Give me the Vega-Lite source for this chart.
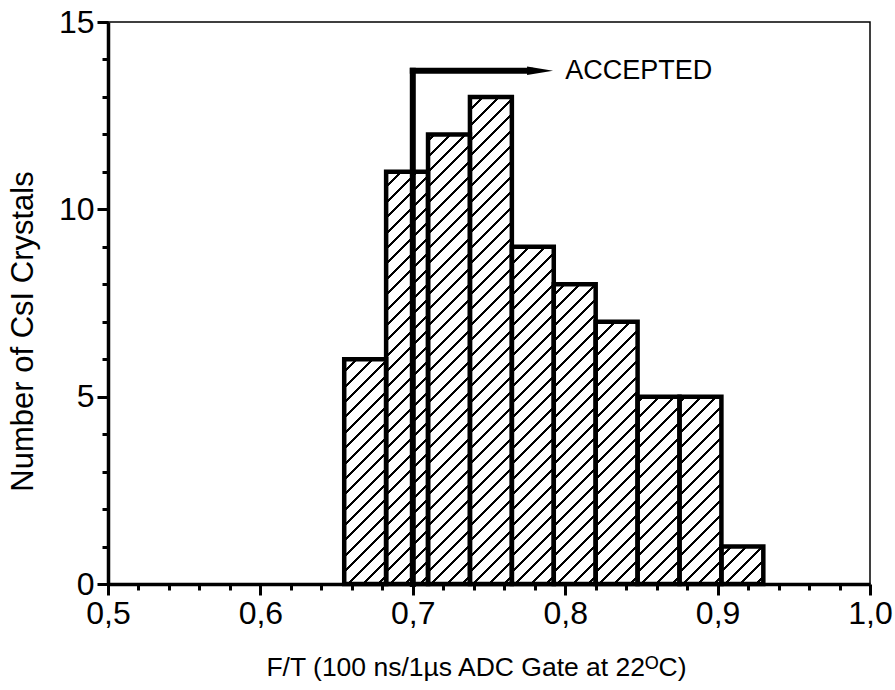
{
"$schema": "https://vega.github.io/schema/vega-lite/v6.json",
"width": 762, "height": 562,
"autosize": {"type": "none"},
"padding": {"left": 108, "top": 22, "right": 25, "bottom": 106},
"background": "white",
"config": {
  "font": "Liberation Sans, Arial, sans-serif",
  "view": {"stroke": "black", "strokeWidth": 1.5},
  "axis": {"domainColor": "black", "domainWidth": 3.5, "tickColor": "black", "tickWidth": 3, "labelColor": "black", "titleColor": "black", "labelFontSize": 32, "titleFontSize": 26.5, "titleFontWeight": "normal", "labelFont": "Liberation Sans", "titleFont": "Liberation Sans", "grid": false, "labelOverlap": false}
},
"resolve": {"axis": {"x": "independent", "y": "independent"}},
"data": {"values": [
  {"bin_start": 0.655, "bin_end": 0.6825, "count": 6},
  {"bin_start": 0.6825, "bin_end": 0.71, "count": 11},
  {"bin_start": 0.71, "bin_end": 0.7375, "count": 12},
  {"bin_start": 0.7375, "bin_end": 0.765, "count": 13},
  {"bin_start": 0.765, "bin_end": 0.7925, "count": 9},
  {"bin_start": 0.7925, "bin_end": 0.82, "count": 8},
  {"bin_start": 0.82, "bin_end": 0.8475, "count": 7},
  {"bin_start": 0.8475, "bin_end": 0.875, "count": 5},
  {"bin_start": 0.875, "bin_end": 0.9025, "count": 5},
  {"bin_start": 0.9025, "bin_end": 0.93, "count": 1}
]},
"layer": [
  {
    "mark": {"type": "rect", "fill": {"gradient": "linear", "x1": 0, "y1": 0, "x2": 0.08025, "y2": 1.069, "stops": [
      {"offset": 0, "color": "#fff"},
      {"offset": 0.0103, "color": "#fff"}, {"offset": 0.0103, "color": "#000"}, {"offset": 0.0153, "color": "#000"}, {"offset": 0.0153, "color": "#fff"},
      {"offset": 0.0360, "color": "#fff"}, {"offset": 0.0360, "color": "#000"}, {"offset": 0.0410, "color": "#000"}, {"offset": 0.0410, "color": "#fff"},
      {"offset": 0.0616, "color": "#fff"}, {"offset": 0.0616, "color": "#000"}, {"offset": 0.0666, "color": "#000"}, {"offset": 0.0666, "color": "#fff"},
      {"offset": 0.0872, "color": "#fff"}, {"offset": 0.0872, "color": "#000"}, {"offset": 0.0922, "color": "#000"}, {"offset": 0.0922, "color": "#fff"},
      {"offset": 0.1129, "color": "#fff"}, {"offset": 0.1129, "color": "#000"}, {"offset": 0.1179, "color": "#000"}, {"offset": 0.1179, "color": "#fff"},
      {"offset": 0.1385, "color": "#fff"}, {"offset": 0.1385, "color": "#000"}, {"offset": 0.1435, "color": "#000"}, {"offset": 0.1435, "color": "#fff"},
      {"offset": 0.1642, "color": "#fff"}, {"offset": 0.1642, "color": "#000"}, {"offset": 0.1692, "color": "#000"}, {"offset": 0.1692, "color": "#fff"},
      {"offset": 0.1898, "color": "#fff"}, {"offset": 0.1898, "color": "#000"}, {"offset": 0.1948, "color": "#000"}, {"offset": 0.1948, "color": "#fff"},
      {"offset": 0.2154, "color": "#fff"}, {"offset": 0.2154, "color": "#000"}, {"offset": 0.2204, "color": "#000"}, {"offset": 0.2204, "color": "#fff"},
      {"offset": 0.2411, "color": "#fff"}, {"offset": 0.2411, "color": "#000"}, {"offset": 0.2461, "color": "#000"}, {"offset": 0.2461, "color": "#fff"},
      {"offset": 0.2667, "color": "#fff"}, {"offset": 0.2667, "color": "#000"}, {"offset": 0.2717, "color": "#000"}, {"offset": 0.2717, "color": "#fff"},
      {"offset": 0.2924, "color": "#fff"}, {"offset": 0.2924, "color": "#000"}, {"offset": 0.2974, "color": "#000"}, {"offset": 0.2974, "color": "#fff"},
      {"offset": 0.3180, "color": "#fff"}, {"offset": 0.3180, "color": "#000"}, {"offset": 0.3230, "color": "#000"}, {"offset": 0.3230, "color": "#fff"},
      {"offset": 0.3437, "color": "#fff"}, {"offset": 0.3437, "color": "#000"}, {"offset": 0.3487, "color": "#000"}, {"offset": 0.3487, "color": "#fff"},
      {"offset": 0.3693, "color": "#fff"}, {"offset": 0.3693, "color": "#000"}, {"offset": 0.3743, "color": "#000"}, {"offset": 0.3743, "color": "#fff"},
      {"offset": 0.3949, "color": "#fff"}, {"offset": 0.3949, "color": "#000"}, {"offset": 0.3999, "color": "#000"}, {"offset": 0.3999, "color": "#fff"},
      {"offset": 0.4206, "color": "#fff"}, {"offset": 0.4206, "color": "#000"}, {"offset": 0.4256, "color": "#000"}, {"offset": 0.4256, "color": "#fff"},
      {"offset": 0.4462, "color": "#fff"}, {"offset": 0.4462, "color": "#000"}, {"offset": 0.4512, "color": "#000"}, {"offset": 0.4512, "color": "#fff"},
      {"offset": 0.4719, "color": "#fff"}, {"offset": 0.4719, "color": "#000"}, {"offset": 0.4769, "color": "#000"}, {"offset": 0.4769, "color": "#fff"},
      {"offset": 0.4975, "color": "#fff"}, {"offset": 0.4975, "color": "#000"}, {"offset": 0.5025, "color": "#000"}, {"offset": 0.5025, "color": "#fff"},
      {"offset": 0.5231, "color": "#fff"}, {"offset": 0.5231, "color": "#000"}, {"offset": 0.5281, "color": "#000"}, {"offset": 0.5281, "color": "#fff"},
      {"offset": 0.5488, "color": "#fff"}, {"offset": 0.5488, "color": "#000"}, {"offset": 0.5538, "color": "#000"}, {"offset": 0.5538, "color": "#fff"},
      {"offset": 0.5744, "color": "#fff"}, {"offset": 0.5744, "color": "#000"}, {"offset": 0.5794, "color": "#000"}, {"offset": 0.5794, "color": "#fff"},
      {"offset": 0.6001, "color": "#fff"}, {"offset": 0.6001, "color": "#000"}, {"offset": 0.6051, "color": "#000"}, {"offset": 0.6051, "color": "#fff"},
      {"offset": 0.6257, "color": "#fff"}, {"offset": 0.6257, "color": "#000"}, {"offset": 0.6307, "color": "#000"}, {"offset": 0.6307, "color": "#fff"},
      {"offset": 0.6513, "color": "#fff"}, {"offset": 0.6513, "color": "#000"}, {"offset": 0.6563, "color": "#000"}, {"offset": 0.6563, "color": "#fff"},
      {"offset": 0.6770, "color": "#fff"}, {"offset": 0.6770, "color": "#000"}, {"offset": 0.6820, "color": "#000"}, {"offset": 0.6820, "color": "#fff"},
      {"offset": 0.7026, "color": "#fff"}, {"offset": 0.7026, "color": "#000"}, {"offset": 0.7076, "color": "#000"}, {"offset": 0.7076, "color": "#fff"},
      {"offset": 0.7283, "color": "#fff"}, {"offset": 0.7283, "color": "#000"}, {"offset": 0.7333, "color": "#000"}, {"offset": 0.7333, "color": "#fff"},
      {"offset": 0.7539, "color": "#fff"}, {"offset": 0.7539, "color": "#000"}, {"offset": 0.7589, "color": "#000"}, {"offset": 0.7589, "color": "#fff"},
      {"offset": 0.7796, "color": "#fff"}, {"offset": 0.7796, "color": "#000"}, {"offset": 0.7846, "color": "#000"}, {"offset": 0.7846, "color": "#fff"},
      {"offset": 0.8052, "color": "#fff"}, {"offset": 0.8052, "color": "#000"}, {"offset": 0.8102, "color": "#000"}, {"offset": 0.8102, "color": "#fff"},
      {"offset": 0.8308, "color": "#fff"}, {"offset": 0.8308, "color": "#000"}, {"offset": 0.8358, "color": "#000"}, {"offset": 0.8358, "color": "#fff"},
      {"offset": 0.8565, "color": "#fff"}, {"offset": 0.8565, "color": "#000"}, {"offset": 0.8615, "color": "#000"}, {"offset": 0.8615, "color": "#fff"},
      {"offset": 0.8821, "color": "#fff"}, {"offset": 0.8821, "color": "#000"}, {"offset": 0.8871, "color": "#000"}, {"offset": 0.8871, "color": "#fff"},
      {"offset": 0.9078, "color": "#fff"}, {"offset": 0.9078, "color": "#000"}, {"offset": 0.9128, "color": "#000"}, {"offset": 0.9128, "color": "#fff"},
      {"offset": 0.9334, "color": "#fff"}, {"offset": 0.9334, "color": "#000"}, {"offset": 0.9384, "color": "#000"}, {"offset": 0.9384, "color": "#fff"},
      {"offset": 0.9590, "color": "#fff"}, {"offset": 0.9590, "color": "#000"}, {"offset": 0.9640, "color": "#000"}, {"offset": 0.9640, "color": "#fff"},
      {"offset": 0.9847, "color": "#fff"}, {"offset": 0.9847, "color": "#000"}, {"offset": 0.9897, "color": "#000"}, {"offset": 0.9897, "color": "#fff"},
      {"offset": 1, "color": "#fff"}
    ]}},
    "encoding": {
      "x": {"field": "bin_start", "type": "quantitative", "scale": {"domain": [0.5, 1.0], "nice": false, "zero": false},
        "axis": {"orient": "bottom", "title": "F/T (100 ns/1µs ADC Gate at 22ᴼC)",
          "values": [0.5, 0.6, 0.7, 0.8, 0.9, 1.0],
          "labelExpr": "replace(format(datum.value, '.1f'), '.', ',')",
          "tickSize": 11, "labelOverlap": false, "labelPadding": 3, "titlePadding": 25, "titleX": 368, "titleAlign": "center", "labelFlush": false}},
      "x2": {"field": "bin_end"},
      "y": {"datum": 0, "type": "quantitative", "scale": {"domain": [0, 15], "nice": false},
        "axis": {"orient": "left", "title": "Number of CsI Crystals",
          "values": [0, 5, 10, 15],
          "tickSize": 11, "labelOverlap": false, "labelPadding": 3, "titleFontSize": 31, "titleAngle": 270, "titleBaseline": "bottom", "titleAlign": "center", "titleX": -69, "titleY": 309}},
      "y2": {"datum": 14.9}
    }
  },
  {
    "mark": {"type": "rect", "fill": "white", "stroke": "white", "strokeWidth": 2},
    "encoding": {
      "x": {"field": "bin_start", "type": "quantitative",
        "axis": {"orient": "bottom", "title": null, "labels": false, "domain": false, "tickSize": 6,
          "values": [0.52, 0.54, 0.56, 0.58, 0.62, 0.64, 0.66, 0.68, 0.72, 0.74, 0.76, 0.78, 0.82, 0.84, 0.86, 0.88, 0.92, 0.94, 0.96, 0.98]}},
      "x2": {"field": "bin_end"},
      "y": {"field": "count", "type": "quantitative",
        "axis": {"orient": "left", "title": null, "labels": false, "domain": false, "tickSize": 6,
          "values": [1, 2, 3, 4, 6, 7, 8, 9, 11, 12, 13, 14]}},
      "y2": {"datum": 14.92}
    }
  },
  {
    "mark": {"type": "rect", "filled": false, "stroke": "black", "strokeWidth": 4.5},
    "encoding": {
      "x": {"field": "bin_start", "type": "quantitative", "axis": null},
      "x2": {"field": "bin_end"},
      "y": {"field": "count", "type": "quantitative", "axis": null},
      "y2": {"datum": 0}
    }
  },
  {
    "data": {"values": [{}]},
    "mark": {"type": "rule", "color": "black", "strokeWidth": 6, "strokeCap": "square"},
    "encoding": {
      "x": {"datum": 0.7, "type": "quantitative", "axis": null},
      "y": {"datum": 0, "type": "quantitative", "axis": null},
      "y2": {"datum": 13.7}
    }
  },
  {
    "data": {"values": [{}]},
    "mark": {"type": "rule", "color": "black", "strokeWidth": 6, "strokeCap": "square"},
    "encoding": {
      "x": {"datum": 0.7, "type": "quantitative", "axis": null},
      "x2": {"datum": 0.777},
      "y": {"datum": 13.7, "type": "quantitative", "axis": null}
    }
  },
  {
    "data": {"values": [{}]},
    "mark": {"type": "point", "shape": "M -1 -0.33 L 1 0 L -1 0.33 Z", "filled": true, "color": "black", "opacity": 1, "size": 676},
    "encoding": {
      "x": {"datum": 0.7835, "type": "quantitative", "axis": null},
      "y": {"datum": 13.7, "type": "quantitative", "axis": null}
    }
  },
  {
    "data": {"values": [{}]},
    "mark": {"type": "text", "text": "ACCEPTED", "align": "left", "baseline": "middle", "fontSize": 27, "font": "Liberation Sans", "color": "black"},
    "encoding": {
      "x": {"datum": 0.8, "type": "quantitative", "axis": null},
      "y": {"datum": 13.7, "type": "quantitative", "axis": null}
    }
  }
]
}
